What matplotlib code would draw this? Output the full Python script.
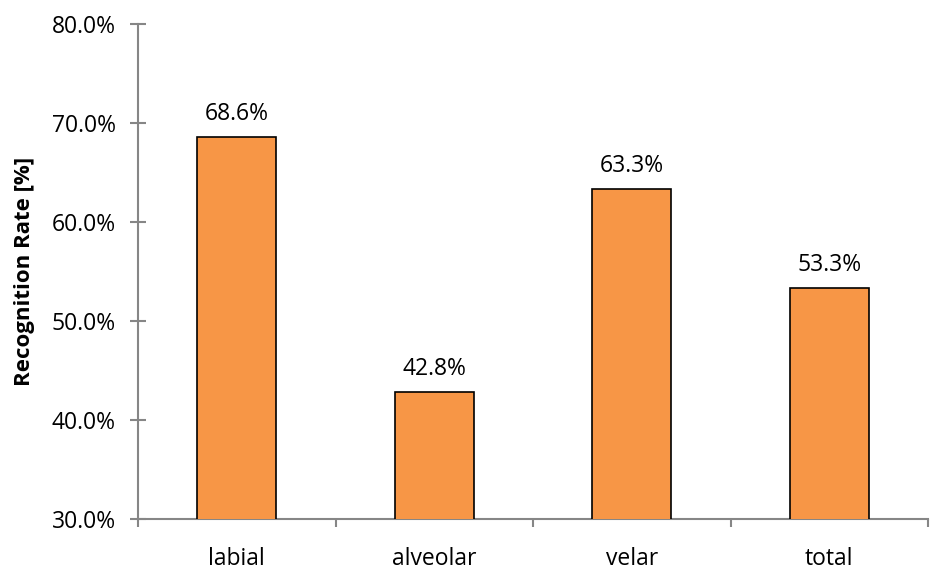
import matplotlib.pyplot as plt
from matplotlib.ticker import FuncFormatter

# Recognition rate per place of articulation
categories = ['labial', 'alveolar', 'velar', 'total']
rates = [68.6, 42.8, 63.3, 53.3]
yticks = [30, 40, 50, 60, 70, 80]

plt.rcParams['font.family'] = ['Open Sans', 'DejaVu Sans']

fig = plt.figure(figsize=(9.36, 5.84), dpi=100)
ax = fig.add_axes([138 / 936, 65 / 584, 790 / 936, 495 / 584])

x = range(len(categories))
bars = ax.bar(x, rates, width=0.4, color='#F79646', edgecolor='black',
              linewidth=1.2, zorder=3)

# value labels above bars
for b, v in zip(bars, rates):
    ax.text(b.get_x() + b.get_width() / 2, v + 1.1, '%.1f%%' % v,
            ha='center', va='bottom', fontsize=16.5)

ax.set_xlim(-0.5, len(categories) - 0.5)
ax.set_ylim(30, 80)
ax.set_yticks(yticks)
ax.yaxis.set_major_formatter(FuncFormatter(lambda v, p: '%.1f%%' % v))

# x ticks sit between categories, labels at the centres
ax.set_xticks([i - 0.5 for i in range(len(categories) + 1)])
ax.set_xticklabels([])
ax.set_xticks(list(x), minor=True)
ax.set_xticklabels(categories, minor=True, fontsize=16.5)
ax.tick_params(axis='x', which='minor', length=0, pad=20)
ax.tick_params(axis='x', which='major', direction='out', length=6,
               width=1.5, color='#868686')
ax.tick_params(axis='y', direction='inout', length=12, width=1.5,
               color='#868686', labelsize=16.5, pad=10)

for s in ['top', 'right']:
    ax.spines[s].set_visible(False)
for s in ['left', 'bottom']:
    ax.spines[s].set_color('#868686')
    ax.spines[s].set_linewidth(1.5)

ax.set_ylabel('Recognition Rate [%]', fontsize=16, fontweight='bold',
              labelpad=12)

fig.savefig('out.png', dpi=100)
